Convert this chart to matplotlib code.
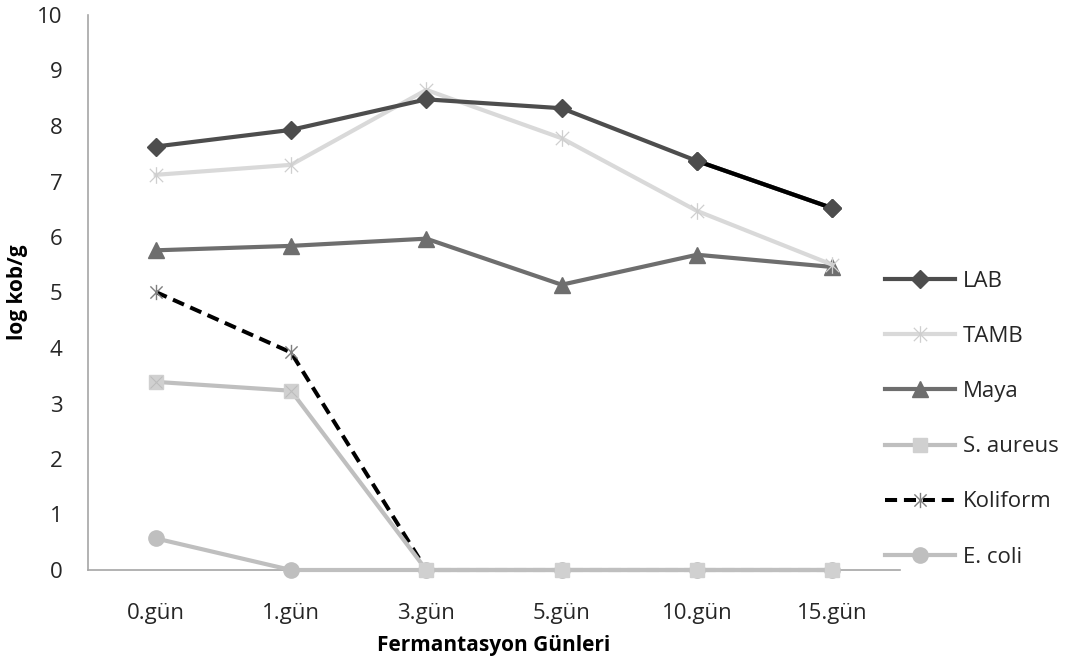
import matplotlib
matplotlib.use("Agg")
import matplotlib.pyplot as plt
import numpy as np
from matplotlib.path import Path

categories = ["0.gün", "1.gün", "3.gün", "5.gün", "10.gün", "15.gün"]
lab = [7.63, 7.93, 8.48, 8.32, 7.37, 6.52]
tamb = [7.12, 7.30, 8.65, 7.78, 6.47, 5.50]
maya = [5.76, 5.84, 5.97, 5.14, 5.68, 5.46]
s_aureus = [3.39, 3.23, 0, 0, 0, 0]
koliform = [5.01, 3.92, 0, 0, 0, 0]
e_coli = [0.57, 0, 0, 0, 0, 0]
yticks = list(range(0, 11))

plt.rcParams['font.family'] = ['Open Sans', 'DejaVu Sans']

# asterisk marker (Excel "star")
ast = Path([(0, -1), (0, 1), (-0.8, -0.8), (0.8, 0.8), (-0.8, 0.8), (0.8, -0.8)],
           [Path.MOVETO, Path.LINETO, Path.MOVETO, Path.LINETO, Path.MOVETO, Path.LINETO])

fig = plt.figure(figsize=(10.68, 6.68), dpi=100)
ax = fig.add_axes([88/1068, (668-570)/668, (900-88)/1068, (570-15)/668])
x = np.arange(len(categories))

lw = 3.0
ax.plot(x, koliform, color='black', lw=2.9, ls=(0, (3.0, 1.7)), marker=ast, ms=11,
        mec='#7f7f7f', mew=1.0, label='Koliform', zorder=3, clip_on=False)
ax.plot(x, e_coli, color='#bfbfbf', lw=lw, marker='o', ms=11, mfc='#bfbfbf', mec='#bfbfbf',
        label='E. coli', zorder=4, clip_on=False)
ax.plot(x, s_aureus, color='#bfbfbf', lw=lw, marker='s', ms=10, mfc='#d0d0d0', mec='#d0d0d0',
        label='S. aureus', zorder=5, clip_on=False)
ax.plot(x[:2], s_aureus[:2], ls='none', marker='x', ms=9, mec='#bdbdbd', mew=0.8, zorder=6, clip_on=False)
ax.plot(x, maya, color='#6e6e6e', lw=lw, marker='^', ms=11, mfc='#6e6e6e', mec='#6e6e6e',
        label='Maya', zorder=6, clip_on=False)
ax.plot(x, tamb, color='#d9d9d9', lw=lw, marker=ast, ms=12, mec='#cfcfcf', mew=0.9,
        label='TAMB', zorder=7, clip_on=False)
ax.plot(x, lab, color='#4d4d4d', lw=lw, marker='D', ms=9, mfc='#4d4d4d', mec='#4d4d4d',
        label='LAB', zorder=8, clip_on=False)
ax.plot(x[4:], lab[4:], color='black', lw=lw, zorder=8.5, clip_on=False)
ax.plot(x[4:], lab[4:], ls='none', marker='D', ms=9, mfc='#4d4d4d', mec='#4d4d4d', zorder=9, clip_on=False)

ax.set_xlim(-0.5, len(categories) - 0.5)
ax.set_ylim(0, 10)
ax.set_xticks(x)
ax.set_xticklabels(categories)
ax.set_yticks(yticks)
ax.tick_params(axis='both', length=0, labelsize=16, colors='#262626')
ax.tick_params(axis='x', pad=24)
ax.tick_params(axis='y', pad=18.5)
for s in ['top', 'right']:
    ax.spines[s].set_visible(False)
for s in ['left', 'bottom']:
    ax.spines[s].set_color('#a6a6a6')
    ax.spines[s].set_linewidth(1.2)

ax.set_xlabel('Fermantasyon Günleri', fontsize=15, fontweight='bold', labelpad=8)
ax.set_ylabel('log kob/g', fontsize=15, fontweight='bold')
ax.yaxis.set_label_coords(-0.074, 0.5)

handles, labels = ax.get_legend_handles_labels()
order = ['LAB', 'TAMB', 'Maya', 'S. aureus', 'Koliform', 'E. coli']
hmap = dict(zip(labels, handles))
leg = fig.legend([hmap[k] for k in order], order, loc='upper left',
                 bbox_to_anchor=(885/1068, (668-271)/668), frameon=False,
                 fontsize=16, handlelength=3.15, labelspacing=1.535, handletextpad=0.36,
                 borderpad=0, borderaxespad=0)
for t in leg.get_texts():
    t.set_color('#262626')

fig.savefig('out.png', dpi=100)
